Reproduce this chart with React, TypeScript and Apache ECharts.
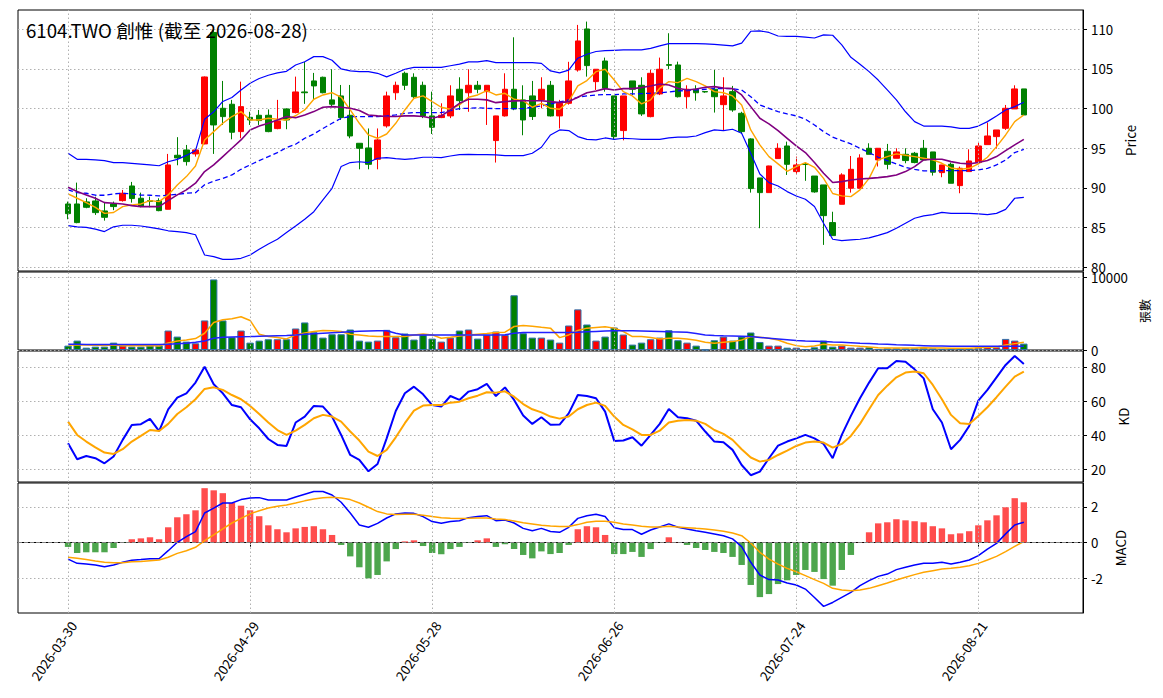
import React, { useEffect, useRef } from "react";
import * as echarts from "echarts";

const TITLE = "6104.TWO 創惟 (截至 2026-08-28)";

const DATES = [
  "2026-03-30","2026-03-31","2026-04-01","2026-04-02","2026-04-07","2026-04-08","2026-04-09","2026-04-10",
  "2026-04-13","2026-04-14","2026-04-15","2026-04-16","2026-04-17",
  "2026-04-20","2026-04-21","2026-04-22","2026-04-23","2026-04-24",
  "2026-04-27","2026-04-28","2026-04-29","2026-04-30",
  "2026-05-04","2026-05-05","2026-05-06","2026-05-07","2026-05-08",
  "2026-05-11","2026-05-12","2026-05-13","2026-05-14","2026-05-15",
  "2026-05-18","2026-05-19","2026-05-20","2026-05-21","2026-05-22",
  "2026-05-25","2026-05-26","2026-05-27","2026-05-28","2026-05-29",
  "2026-06-01","2026-06-02","2026-06-03","2026-06-04","2026-06-05",
  "2026-06-08","2026-06-09","2026-06-10","2026-06-11","2026-06-12",
  "2026-06-15","2026-06-16","2026-06-17","2026-06-18",
  "2026-06-22","2026-06-23","2026-06-24","2026-06-25","2026-06-26",
  "2026-06-29","2026-06-30","2026-07-01","2026-07-02","2026-07-03",
  "2026-07-06","2026-07-07","2026-07-08","2026-07-09","2026-07-10",
  "2026-07-13","2026-07-14","2026-07-15","2026-07-16","2026-07-17",
  "2026-07-20","2026-07-21","2026-07-22","2026-07-23","2026-07-24",
  "2026-07-27","2026-07-28","2026-07-29","2026-07-30","2026-07-31",
  "2026-08-03","2026-08-04","2026-08-05","2026-08-06","2026-08-07",
  "2026-08-10","2026-08-11","2026-08-12","2026-08-13","2026-08-14",
  "2026-08-17","2026-08-18","2026-08-19","2026-08-20","2026-08-21",
  "2026-08-24","2026-08-25","2026-08-26","2026-08-27","2026-08-28",
];

const TICK_IDX = [0, 20, 40, 60, 80, 100];

const OPEN = [87.98,87.98,88.24,88.36,87.10,87.98,88.40,90.25,88.70,88.40,88.40,87.31,94.12,94.79,94.29,95.55,109.6,100.04,100.55,97.10,
  98.90,99.16,99.16,97.48,99.96,99.50,102.10,103.49,103.95,101.10,101.60,99.16,95.63,95.04,93.61,97.82,102.00,104.45,103.95,102.94,
  99.08,98.87,99.08,102.44,102.00,102.94,102.14,95.97,99.08,102.44,101.10,101.60,101.10,102.94,99.08,100.67,104.87,110.04,103.40,106.00,
  101.60,97.23,103.49,102.94,98.99,101.85,105.55,105.50,101.50,102.44,102.15,102.44,100.50,102.14,99.41,96.18,91.26,89.41,93.70,95.29,
  92.06,93.00,91.50,90.38,85.63,87.94,89.96,89.96,95.00,93.53,94.62,93.74,94.24,94.37,95.00,94.54,91.93,92.98,90.29,92.06,
  93.20,95.46,96.47,97.52,99.96,102.48];
const CLOSE = [86.76,85.63,87.56,86.89,86.30,87.65,89.33,88.66,87.73,88.30,87.14,92.90,93.78,93.32,94.79,103.99,97.94,98.99,97.02,100.25,
  98.57,98.49,97.10,98.45,98.57,102.10,102.00,102.86,102.00,100.55,98.87,96.55,95.00,92.98,96.05,101.60,102.94,102.94,101.50,99.08,
  97.65,99.16,101.60,101.00,102.94,102.44,102.94,99.08,102.44,99.96,98.57,99.00,102.44,99.08,100.67,103.49,108.53,105.42,104.96,102.56,
  96.47,101.60,102.44,99.33,104.45,104.96,105.45,101.50,102.44,102.00,102.10,101.50,101.60,99.83,97.10,89.92,89.41,92.77,95.00,92.98,
  92.90,92.95,89.50,86.51,83.99,91.64,92.35,93.78,94.24,95.00,92.98,94.54,93.45,93.20,93.53,91.98,92.90,90.59,92.48,93.40,
  95.29,96.55,97.31,100.04,102.48,99.20];
const LOW = [86.05,85.55,87.44,86.60,85.88,87.20,88.28,88.15,87.56,87.56,87.06,87.30,92.86,92.82,93.95,95.50,94.29,97.94,96.13,96.26,
  97.94,97.94,97.02,97.40,97.40,99.40,100.60,101.10,101.93,100.25,98.57,96.26,92.35,92.35,92.35,97.60,101.10,102.35,101.30,98.80,
  96.80,98.80,98.80,99.83,99.60,101.93,97.94,93.20,99.00,99.80,96.64,98.57,100.04,99.00,97.50,100.50,104.66,104.03,102.35,102.14,
  96.13,96.00,101.70,99.08,98.90,101.70,104.96,101.40,100.04,101.00,102.00,99.50,97.30,99.60,96.80,89.41,84.92,89.40,93.70,91.64,
  91.64,90.90,89.40,82.82,83.99,87.94,89.41,89.96,94.24,92.70,92.35,93.74,93.11,93.11,93.53,91.56,91.35,90.59,89.33,92.06,
  93.20,95.46,94.96,97.31,99.96,99.20];
const HIGH = [88.28,90.67,88.70,88.90,88.24,88.28,89.75,90.76,89.41,88.90,88.70,94.29,96.40,95.42,94.85,104.05,110.0,103.49,101.10,103.40,
  99.60,99.83,99.90,101.10,100.00,104.03,105.90,104.50,104.03,104.96,102.98,102.98,95.63,97.50,97.50,102.14,103.40,104.66,104.45,103.40,
  102.14,100.67,102.94,103.95,104.96,103.49,102.94,99.10,104.45,108.99,102.94,103.49,103.95,103.49,101.10,105.90,110.55,110.97,104.96,106.43,
  101.60,101.60,103.49,103.95,104.87,106.43,109.50,105.92,102.94,102.94,102.20,104.87,103.95,102.86,99.60,96.26,91.26,92.80,95.63,95.84,
  93.95,93.20,91.50,90.38,87.00,91.85,94.03,94.24,95.63,95.00,95.55,95.00,95.00,94.54,96.05,94.54,92.90,93.20,92.69,94.87,
  95.75,98.24,97.31,100.46,102.94,102.48];

const BB_UP = [94.37,93.61,93.60,93.53,93.45,93.20,93.20,93.10,93.00,92.90,92.80,93.30,93.60,94.10,94.70,98.65,99.60,100.90,101.40,102.35,
  103.20,103.80,104.20,104.50,104.70,105.50,105.90,106.55,106.55,106.10,105.00,104.75,104.66,104.66,104.45,104.00,104.45,104.96,105.20,105.20,
  105.20,105.20,105.40,105.60,105.90,105.90,106.05,105.80,105.80,105.80,105.80,105.80,105.70,104.75,104.50,104.85,106.35,106.85,107.20,107.30,
  107.35,107.40,107.40,107.40,107.60,107.90,108.20,108.20,108.20,108.20,108.15,108.10,108.00,107.90,108.25,109.75,109.80,109.60,109.15,109.10,
  109.10,109.00,108.90,109.30,109.25,108.03,106.47,105.60,104.66,103.60,102.35,101.10,99.60,98.36,97.80,97.80,97.80,97.70,97.50,97.50,
  97.80,98.36,99.08,99.83,100.25,100.80];
const BB_MID = [89.75,89.40,89.33,89.08,89.08,89.25,89.33,89.25,89.10,89.08,89.00,89.08,89.20,89.33,89.40,90.40,90.85,91.20,91.64,92.35,
  92.90,93.45,93.95,94.46,95.08,95.50,96.26,96.80,97.50,98.15,98.78,99.00,99.00,99.00,99.00,99.08,99.20,99.40,99.50,99.50,
  99.50,99.50,99.75,100.00,100.04,100.10,100.04,100.00,100.00,100.00,100.00,100.17,100.34,100.60,100.84,101.10,101.43,101.60,101.72,101.76,
  101.76,101.85,101.85,101.89,101.93,102.00,102.10,102.23,102.27,102.35,102.44,102.52,102.52,102.52,102.35,101.50,100.46,100.04,99.62,99.33,
  99.08,98.66,97.94,97.10,96.40,95.97,95.55,95.00,94.46,93.87,93.45,93.03,92.60,92.35,92.14,92.14,92.18,92.18,92.18,92.18,
  92.27,92.48,92.90,93.53,94.46,94.87];
const BB_LOW = [85.25,85.10,85.04,84.80,84.50,85.10,85.30,85.30,85.20,85.04,84.83,84.60,84.50,84.37,84.10,81.55,81.35,81.00,81.00,81.13,
  81.55,82.27,82.94,83.53,84.37,85.20,86.05,87.00,88.50,89.96,92.70,93.20,93.30,93.20,93.74,93.82,93.70,93.60,93.70,93.87,
  93.87,93.82,94.03,94.20,94.24,94.20,94.20,94.16,94.08,94.08,94.08,94.37,95.13,96.68,97.31,97.23,96.47,96.13,96.05,96.30,
  96.13,96.26,96.20,96.13,96.13,96.13,96.30,96.40,96.40,96.55,96.97,97.31,97.23,97.40,96.89,94.37,91.76,90.67,90.25,89.54,
  88.99,88.57,87.65,85.55,83.53,83.36,83.45,83.53,83.70,84.03,84.37,84.92,85.55,86.18,86.47,86.64,86.93,86.80,86.80,86.80,
  86.72,86.64,86.80,87.30,88.70,88.80];
const MA5 = [89.25,88.70,88.15,87.56,86.80,86.90,87.65,87.86,87.98,88.40,88.28,89.12,90.38,91.43,92.77,96.05,97.10,98.15,99.00,99.62,
  98.57,98.57,98.78,98.66,98.57,99.10,99.83,101.18,101.72,102.00,101.43,99.83,98.15,96.68,96.26,96.80,98.15,99.83,101.30,101.60,
  100.88,100.17,99.92,100.46,101.43,101.72,102.27,101.72,101.93,101.18,101.00,100.17,100.67,100.04,99.92,100.90,102.86,103.53,104.66,104.96,
  103.60,102.14,101.60,100.60,101.10,102.56,103.40,103.28,103.80,103.40,102.86,102.14,102.00,101.60,100.46,97.31,95.42,93.95,93.03,92.10,
  92.69,93.20,92.60,91.20,89.30,89.00,88.90,89.75,91.20,93.53,93.95,94.29,94.12,93.95,93.74,93.53,93.11,92.52,92.35,92.48,
  93.03,93.87,95.21,96.68,98.36,99.20];
const MA10 = [90.08,89.54,89.12,88.70,88.15,88.07,87.98,87.77,87.65,87.65,87.65,88.40,89.12,89.75,90.60,92.06,92.90,93.95,95.00,96.05,
  97.31,97.80,98.15,98.57,99.00,98.85,99.20,99.62,100.17,100.25,100.17,100.04,99.75,99.20,99.08,99.00,99.00,99.08,99.08,99.00,
  98.78,99.08,99.83,100.67,101.18,101.18,101.10,100.75,100.88,100.97,101.00,101.00,101.00,100.88,100.75,100.88,101.43,102.00,102.23,102.52,
  102.35,102.52,102.52,102.65,102.86,103.11,102.98,102.56,102.35,102.48,102.69,102.77,102.60,102.52,101.72,100.25,98.78,98.07,97.23,96.26,
  95.29,94.46,93.20,91.85,90.69,90.80,91.00,91.13,91.20,91.30,91.43,91.64,92.06,92.69,93.53,93.61,93.61,93.32,93.11,93.03,
  93.20,93.45,93.95,94.71,95.42,96.13];

const VOLUME = [600,1290,320,460,460,1010,600,460,460,600,600,2670,1840,1150,920,4055,9680,4055,1750,2670,
  1010,1290,1475,1475,1475,2950,3780,2440,1700,2165,2165,2810,1290,1150,1290,2765,1750,2260,1430,2070,
  1565,1150,1700,2670,2810,1565,2070,2535,2070,7510,2300,1700,1700,1430,1010,3360,5575,3500,1290,1840,
  3090,2120,740,1010,1475,1700,2720,1340,1010,600,30,1340,1840,1290,1840,2400,1100,600,600,320,
  320,140,370,1290,460,600,320,320,370,140,230,230,230,230,320,230,140,140,230,230,
  320,370,370,1520,1290,875];
const VOL_MA5 = [700,720,700,650,630,700,580,600,600,620,560,960,1240,1380,1570,2300,3780,4150,4290,4560,
  4055,2165,1840,1700,1520,2070,2350,2535,2670,2630,2535,2165,2070,1935,1840,1840,1840,1840,2070,2210,
  2070,1610,1750,1935,2070,2165,2260,2400,2440,3225,3360,3270,3130,3000,1700,2070,2670,3000,3090,3180,
  3000,2535,1840,1840,1700,1520,1610,1610,1520,1340,1060,920,1060,1150,1380,1840,1750,1610,1380,920,
  600,460,550,780,690,690,600,500,415,320,280,280,280,280,320,280,280,230,230,230,
  320,370,415,690,875,1060];
const VOL_MA20 = [780,780,770,770,760,760,750,750,745,740,740,800,860,920,1060,1240,1610,1750,1790,1820,
  1840,1880,1920,1960,2000,2070,2150,2230,2300,2370,2440,2520,2580,2610,2630,2630,2300,2070,2070,2070,
  2070,2070,2070,2070,2070,2070,2070,2070,2100,2300,2400,2400,2400,2400,2400,2400,2450,2500,2550,2600,
  2630,2630,2630,2600,2570,2535,2500,2470,2440,2260,2070,2000,1960,1930,1900,1840,1730,1620,1510,1400,
  1290,1240,1200,1150,1100,1060,1000,940,890,830,780,730,690,640,600,550,540,530,520,510,
  500,500,500,500,500,500];

const K = [35.3,25.9,27.8,26.5,23.5,27.5,37.3,46.1,46.5,49.6,42.5,55.3,62.2,64.7,71.0,80.4,70.0,64.7,57.8,56.5,
  49.4,44.1,37.8,34.3,33.7,47.5,51.0,57.3,56.9,51.0,40.2,28.4,25.5,18.8,23.1,38.2,54.3,64.7,68.6,64.1,
  57.8,56.9,63.1,60.8,65.7,67.1,70.2,63.1,68.2,60.8,51.6,46.7,50.6,46.2,46.3,52.9,63.7,63.1,61.8,53.9,
  36.7,36.9,38.8,33.9,40.2,46.7,55.5,50.6,50.0,48.6,42.2,36.3,35.9,31.4,22.5,16.5,18.6,26.5,33.9,36.3,
  38.2,40.2,38.2,34.9,26.5,40.2,51.4,61.8,71.0,79.4,79.4,83.7,83.3,78.8,73.5,55.3,47.5,31.8,37.3,45.5,
  60.4,66.7,74.1,81.4,86.7,82.0];
const D = [48.0,40.2,36.3,32.9,29.8,29.0,31.8,36.3,39.6,43.1,42.5,46.7,52.5,56.5,61.2,67.3,68.2,66.7,63.7,61.2,
  57.3,52.5,47.5,43.1,40.2,42.7,46.1,50.0,52.0,51.0,48.0,42.2,36.9,30.4,27.8,31.4,38.8,47.1,54.5,57.5,
  57.8,57.8,59.2,59.8,61.8,63.3,65.3,65.1,65.9,62.7,58.4,55.3,53.5,51.0,49.8,51.0,55.3,57.8,59.2,57.3,
  51.0,46.1,43.5,40.2,40.2,42.7,47.5,48.6,49.0,48.6,46.7,43.1,40.8,37.3,31.8,26.9,24.5,25.5,28.4,31.0,
  33.7,35.7,36.3,35.7,32.7,34.9,39.6,46.7,55.3,63.7,69.2,74.1,76.9,77.5,76.5,69.6,61.2,52.0,47.1,46.7,
  51.4,56.5,62.4,68.6,74.5,77.5];

const HIST = [-0.24,-0.58,-0.54,-0.54,-0.54,-0.30,-0.02,0.19,0.24,0.30,0.19,0.86,1.42,1.59,1.81,3.05,2.93,2.77,2.22,2.07,
  1.81,1.48,0.97,0.75,0.58,0.80,0.88,0.92,0.75,0.43,-0.13,-0.77,-1.38,-2.00,-1.81,-1.05,-0.36,0.07,0.13,-0.19,
  -0.58,-0.65,-0.36,-0.24,-0.02,0.13,0.24,-0.24,-0.09,-0.36,-0.69,-0.88,-0.49,-0.64,-0.58,-0.13,0.75,0.92,0.86,0.43,
  -0.64,-0.64,-0.52,-0.80,-0.36,-0.01,0.30,0.01,-0.13,-0.30,-0.41,-0.52,-0.58,-0.80,-1.25,-2.37,-3.05,-2.88,-2.32,-2.11,
  -1.81,-1.53,-1.64,-2.04,-2.41,-1.53,-0.69,0.01,0.58,1.08,1.14,1.31,1.25,1.20,1.14,0.92,0.80,0.47,0.52,0.64,
  0.97,1.25,1.53,1.98,2.49,2.26];
const DIF = [-0.92,-1.16,-1.20,-1.25,-1.35,-1.25,-1.10,-0.99,-0.95,-0.90,-0.90,-0.45,0.02,0.34,0.62,1.66,1.93,2.22,2.22,2.41,
  2.50,2.52,2.39,2.39,2.39,2.56,2.71,2.86,2.86,2.67,2.26,1.66,0.99,0.86,1.08,1.38,1.61,1.66,1.64,1.46,
  1.18,1.08,1.18,1.23,1.40,1.46,1.51,1.23,1.27,1.10,0.80,0.67,0.80,0.62,0.58,0.86,1.36,1.51,1.59,1.46,
  0.84,0.73,0.73,0.47,0.71,0.88,1.05,0.86,0.77,0.67,0.58,0.49,0.39,0.21,-0.22,-1.10,-1.81,-2.07,-2.09,-2.26,
  -2.37,-2.60,-3.07,-3.57,-3.35,-3.07,-2.79,-2.41,-2.13,-1.89,-1.76,-1.51,-1.38,-1.25,-1.16,-1.16,-1.10,-1.20,-1.10,-0.97,
  -0.73,-0.36,-0.04,0.49,0.99,1.14];
const DEA = [-0.82,-0.88,-0.95,-1.03,-1.10,-1.12,-1.12,-1.07,-1.05,-1.01,-0.97,-0.82,-0.60,-0.45,-0.26,0.11,0.43,0.77,1.10,1.36,
  1.61,1.79,1.94,2.04,2.11,2.22,2.34,2.45,2.52,2.54,2.50,2.41,2.22,1.98,1.74,1.61,1.57,1.59,1.59,1.53,
  1.46,1.40,1.36,1.35,1.36,1.38,1.38,1.33,1.29,1.21,1.12,1.05,0.97,0.93,0.90,0.90,1.01,1.14,1.20,1.20,
  1.14,1.05,0.99,0.92,0.88,0.88,0.92,0.88,0.84,0.80,0.77,0.71,0.64,0.54,0.39,-0.02,-0.54,-0.92,-1.20,-1.44,
  -1.63,-1.85,-2.07,-2.28,-2.56,-2.65,-2.69,-2.65,-2.56,-2.41,-2.26,-2.09,-1.94,-1.79,-1.66,-1.57,-1.48,-1.44,-1.38,-1.29,
  -1.16,-0.97,-0.77,-0.50,-0.21,0.06];

const PRICE_TICKS = [80, 85, 90, 95, 100, 105, 110];
const VOL_TICKS = [0, 10000];
const KD_TICKS = [20, 40, 60, 80];
const MACD_TICKS = [-2, 0, 2];

const FONT = "'Noto Sans CJK TC', 'Noto Sans', sans-serif";
const PAD = 5;
const NCAT = 117;
const GRID_COLOR = "#b0b0b0";

export default function App() {
  const ref = useRef<HTMLDivElement>(null);

  useEffect(() => {
    if (!ref.current) return;
    const chart = echarts.init(ref.current, undefined, { renderer: "svg" });

    const cats = Array.from({ length: NCAT }, (_, k) => {
      const i = k - PAD;
      return i >= 0 && i < DATES.length ? DATES[i] : `p${k}`;
    });
    const isTick = (k: number) => TICK_IDX.includes(k - PAD);
    const xy = (arr: number[]) => arr.map((v, i) => [i + PAD, v]);
    const up = (i: number) => CLOSE[i] >= OPEN[i];

    const grids = [
      { top: 10, height: 261 },
      { top: 272, height: 78 },
      { top: 351, height: 131 },
      { top: 483, height: 130 },
    ].map((g) => ({
      left: 18,
      right: 80,
      top: g.top,
      height: g.height,
      show: true,
      borderColor: "#000",
      borderWidth: 1,
      backgroundColor: "#fff",
    }));

    const xAxes = [0, 1, 2, 3].map((gi) => ({
      type: "category",
      gridIndex: gi,
      data: cats,
      boundaryGap: true,
      axisLine: { show: gi === 3, lineStyle: { color: "#000" } },
      axisTick: {
        show: gi === 3,
        alignWithLabel: true,
        interval: (k: number) => isTick(k),
        length: 4,
        lineStyle: { color: "#000" },
      },
      axisLabel: {
        show: gi === 3,
        interval: (k: number) => isTick(k),
        rotate: 55,
        align: "right",
        verticalAlign: "top",
        margin: 6,
        fontSize: 13.3,
        color: "#000",
        fontFamily: FONT,
      },
      splitLine: { show: false },
    }));

    const yCommon = (gi: number, min: number, max: number, ticks: number[], name: string, gap: number, nameSize: number) => ({
      type: "value",
      gridIndex: gi,
      position: "right",
      min,
      max,
      scale: true,
      name,
      nameLocation: "middle",
      nameRotate: 90,
      nameGap: gap,
      nameTextStyle: { fontSize: nameSize, color: "#000", fontFamily: FONT },
      axisLine: { show: true, lineStyle: { color: "#000" } },
      axisTick: { show: true, length: 4, customValues: ticks, lineStyle: { color: "#000" } },
      axisLabel: {
        customValues: ticks,
        fontSize: 13.3,
        color: "#000",
        margin: 8,
        fontFamily: FONT,
        formatter: (v: number) => String(v),
      },
      splitLine: { show: true, lineStyle: { color: GRID_COLOR, type: [1.5, 2.5], width: 1 } },
    });

    const yAxes = [
      yCommon(0, 79.53, 112.43, PRICE_TICKS, "Price", 40, 13.3),
      yCommon(1, 0, 10700, VOL_TICKS, "張數", 55, 12),
      yCommon(2, 12.5, 89.6, KD_TICKS, "KD", 30, 13.3),
      yCommon(3, -3.94, 3.34, MACD_TICKS, "MACD", 29, 13.3),
    ];

    const vGrid = {
      silent: true,
      symbol: ["none", "none"],
      label: { show: false },
      lineStyle: { color: GRID_COLOR, type: [1.5, 2.5], width: 1 },
      data: TICK_IDX.map((i) => ({ xAxis: i + PAD })),
      animation: false,
    };

    const line = (gi: number, data: number[], color: string, width: number, extra: any = {}) => ({
      type: "line",
      xAxisIndex: gi,
      yAxisIndex: gi,
      data: xy(data),
      symbol: "none",
      lineStyle: { color, width, ...(extra.lineStyle || {}) },
      itemStyle: { color },
      z: extra.z ?? 3,
      silent: true,
    });

    const series: any[] = [
      {
        type: "candlestick",
        xAxisIndex: 0,
        yAxisIndex: 0,
        data: OPEN.map((o, i) => [i + PAD, o, CLOSE[i], LOW[i], HIGH[i]]),
        encode: { x: 0, y: [1, 2, 3, 4] },
        barWidth: 6,
        itemStyle: {
          color: "#ff0000",
          color0: "#008000",
          borderColor: "#ff0000",
          borderColor0: "#008000",
          borderWidth: 1,
        },
        markLine: vGrid,
        z: 2,
      },
      line(0, BB_UP, "#0000ff", 1.2),
      line(0, BB_LOW, "#0000ff", 1.2),
      line(0, BB_MID, "#0000ff", 1.3, { lineStyle: { type: [5, 3] } }),
      line(0, MA5, "#ffa500", 1.4),
      line(0, MA10, "#800080", 1.6),
      {
        type: "bar",
        xAxisIndex: 1,
        yAxisIndex: 1,
        barWidth: 7.4,
        data: VOLUME.map((v, i) => ({
          value: [i + PAD, v],
          itemStyle: { color: up(i) ? "#ff0000" : "#008000", borderColor: "#2f72ad", borderWidth: 1 },
        })),
        markLine: vGrid,
      },
      line(1, VOL_MA5, "#ffa500", 1.5),
      line(1, VOL_MA20, "#2020ff", 1.5),
      { ...line(2, K, "#0000ff", 2), markLine: vGrid },
      line(2, D, "#ffa500", 2),
      {
        type: "bar",
        xAxisIndex: 3,
        yAxisIndex: 3,
        barWidth: 6.4,
        data: HIST.map((v, i) => ({
          value: [i + PAD, v],
          itemStyle: { color: v >= 0 ? "#ff4d4d" : "#4da64d" },
        })),
        markLine: {
          ...vGrid,
          data: [
            ...TICK_IDX.map((i) => ({ xAxis: i + PAD })),
            { yAxis: 0, lineStyle: { color: "#808080", type: [4, 2], width: 1 } },
          ],
        },
      },
      line(3, DIF, "#0000ff", 1.5),
      line(3, DEA, "#ffa500", 1.5),
    ];

    chart.setOption({
      animation: false,
      backgroundColor: "#fff",
      textStyle: { fontFamily: FONT },
      grid: grids,
      xAxis: xAxes,
      yAxis: yAxes,
      series,
      graphic: [
        {
          type: "text",
          z: 100,
          style: {
            x: 26,
            y: 29,
            text: TITLE,
            fontSize: 18.7,
            fontFamily: FONT,
            fill: "#000",
            verticalAlign: "middle",
          },
        },
      ],
    });

    return () => chart.dispose();
  }, []);

  return (
    <div
      ref={ref}
      style={{ position: "fixed", left: 0, top: 0, width: 1163, height: 698, background: "#fff" }}
    />
  );
}
